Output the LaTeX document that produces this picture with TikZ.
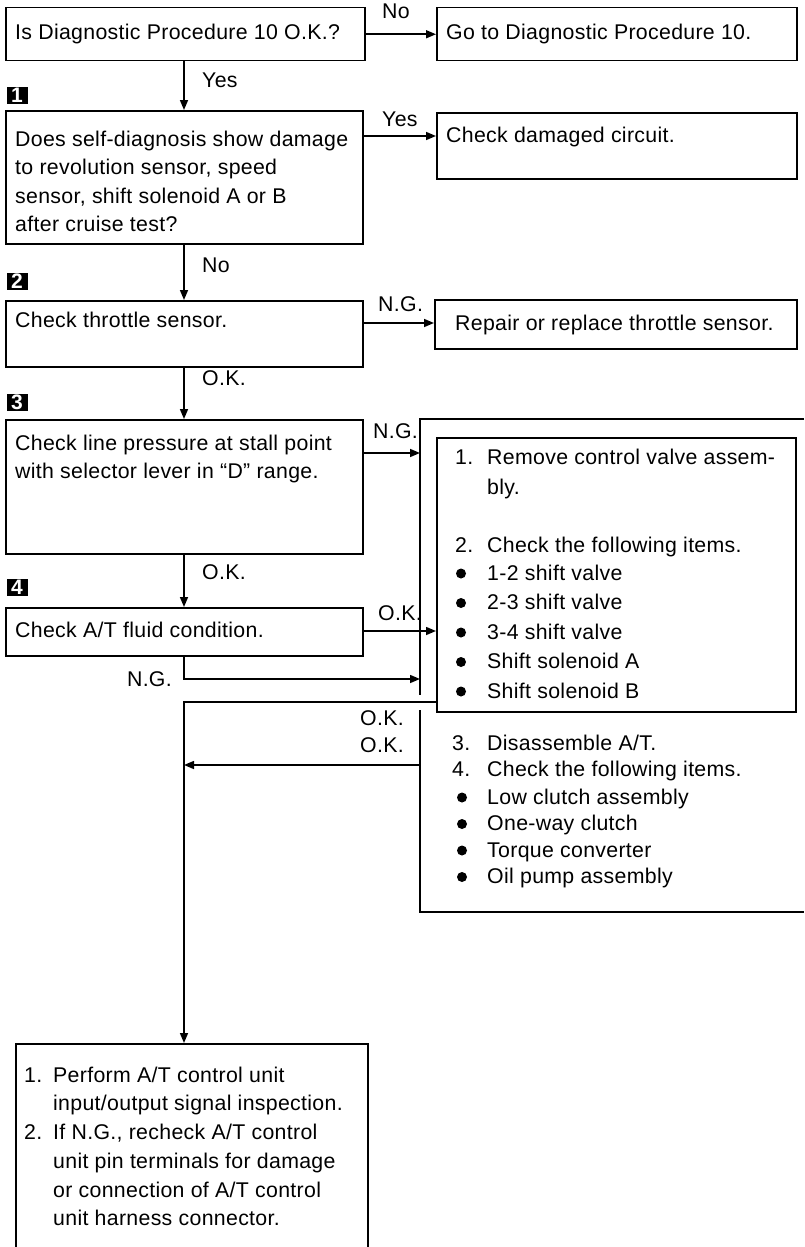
\documentclass[tikz,border=0pt]{standalone}
\usepackage{fontspec}
\setmainfont{Liberation Sans}[LetterSpace=1.5]
\newfontfamily\markfont{Liberation Sans}
\usetikzlibrary{arrows.meta,calc}
\newcommand\myfs{\fontsize{21.3}{28}\selectfont}
\tikzset{
  box/.style={draw, line width=1.5pt, inner sep=0pt, anchor=north west},
  txt/.style={anchor=base west, inner sep=0pt, font=\myfs},
  txte/.style={anchor=base east, inner sep=0pt, font=\myfs},
  arr/.style={line width=1.5pt, -{Triangle[length=10pt,width=8pt]}},
  ln/.style={line width=1.5pt},
  marker/.style={fill=black, text=white, font=\fontsize{21}{21}\selectfont\markfont\bfseries, minimum width=21pt, minimum height=17pt, inner sep=0pt},
  bul/.style={circle, fill=black, inner sep=0pt, minimum size=10pt}
}
\begin{document}
\begin{tikzpicture}[x=1pt,y=-1pt]
\useasboundingbox (0,0) rectangle (804,1247);
% boxes
\node[box, minimum width=359pt, minimum height=53pt] (A) at (5,7) {};
\node[box, minimum width=360pt, minimum height=53pt] (B) at (436,7) {};
\node[box, minimum width=357pt, minimum height=133pt] (C) at (5,110) {};
\node[box, minimum width=360pt, minimum height=66pt] (D) at (436,112) {};
\node[box, minimum width=357pt, minimum height=66pt] (E) at (5,300) {};
\node[box, minimum width=362pt, minimum height=49pt] (F) at (434,299) {};
\node[box, minimum width=357pt, minimum height=134pt] (G) at (5,419) {};
\node[box, minimum width=357pt, minimum height=48pt] (K) at (5,607) {};
\node[box, minimum width=359pt, minimum height=274pt] (H) at (436,437) {};
\node[box, minimum width=352pt, minimum height=240pt] (Z) at (15,1043) {};
% outer frame
\coordinate (fr) at (420,419);
\coordinate (frb) at (420,912);
\coordinate (frgapa) at (420,695);
\coordinate (frgapb) at (420,710);
\draw[ln] (804,419) -- (fr) -- (frgapa);
\draw[ln] (frgapb) -- (frb) -- (804,912);
% markers
\node[marker] (m1) at (17,95) {1};
\node[marker] (m2) at (17,281) {2};
\node[marker] (m3) at (17,402) {3};
\node[marker] (m4) at (17,587) {4};
% texts
\node[txt] (tA) at (15,40) {Is Diagnostic Procedure 10 O.K.?};
\node[txt] (tB) at (446,40) {Go to Diagnostic Procedure 10.};
\foreach \t [count=\i] in {Does self-diagnosis show damage, {to revolution sensor, speed}, {sensor, shift solenoid A or B}, after cruise test?}
  \node[txt] (tC\i) at (15,{146+28.5*(\i-1)}) {\t};
\node[txt] (tD) at (446,142) {Check damaged circuit.};
\node[txt] (tE) at (15,327) {Check throttle sensor.};
\node[txt] (tF) at (455,330) {Repair or replace throttle sensor.};
\node[txt] (tG1) at (15,450) {Check line pressure at stall point};
\node[txt] (tG2) at (15,478.5) {with selector lever in ``D'' range.};
\node[txt] (tK) at (15,637) {Check A/T fluid condition.};
% box H
\node[txt] (h1n) at (455,464) {1.};
\node[txt] (h1) at (487,464) {Remove control valve assem-};
\node[txt] (h1b) at (487,494) {bly.};
\node[txt] (h2n) at (455,552) {2.};
\node[txt] (h2) at (487,552) {Check the following items.};
\foreach \t [count=\i] in {1-2 shift valve, 2-3 shift valve, 3-4 shift valve, Shift solenoid A, Shift solenoid B}{
  \node[txt] (hb\i) at (487,{580+29.5*(\i-1)}) {\t};
  \node[bul] (hd\i) at (461,{573.5+29.5*(\i-1)}) {};
}
% lower list
\node[txt] (l3n) at (452,750) {3.};
\node[txt] (l3) at (487,750) {Disassemble A/T.};
\node[txt] (l4n) at (452,776) {4.};
\node[txt] (l4) at (487,776) {Check the following items.};
\foreach \t [count=\i] in {Low clutch assembly, One-way clutch, Torque converter, Oil pump assembly}{
  \node[txt] (lb\i) at (487,{804+26.5*(\i-1)}) {\t};
  \node[bul] (ld\i) at (462,{797.5+26.5*(\i-1)}) {};
}
% final box
\node[txt] (z1n) at (24,1082) {1.};
\node[txt] (z1) at (53,1082) {Perform A/T control unit};
\node[txt] (z1b) at (53,1110) {input/output signal inspection.};
\node[txt] (z2n) at (24,1139) {2.};
\node[txt] (z2) at (53,1139) {If N.G., recheck A/T control};
\node[txt] (z2b) at (53,1168) {unit pin terminals for damage};
\node[txt] (z2c) at (53,1197) {or connection of A/T control};
\node[txt] (z2d) at (53,1225) {unit harness connector.};
% connectors
\coordinate (vx) at (184,0);
\coordinate (y1) at (0,136);
\coordinate (y2) at (0,323);
\coordinate (y3) at (0,453);
\coordinate (y4) at (0,631);
\coordinate (y5) at (0,679);
\coordinate (y6) at (0,702);
\coordinate (y7) at (0,765);
\draw[arr] (A.east) -- (B.west);
\draw[arr] (A.south -| vx) -- (C.north -| vx);
\draw[arr] (C.east |- y1) -- (D.west |- y1);
\draw[arr] (C.south -| vx) -- (E.north -| vx);
\draw[arr] (E.east |- y2) -- (F.west |- y2);
\draw[arr] (E.south -| vx) -- (G.north -| vx);
\draw[arr] (G.east |- y3) -- (fr |- y3);
\draw[arr] (G.south -| vx) -- (K.north -| vx);
\draw[arr] (K.east |- y4) -- (H.west |- y4);
\draw[arr] (K.south -| vx) |- (fr |- y5);
\draw[arr] (H.west |- y6) -| (Z.north -| vx);
\draw[arr] (frb |- y7) -- (vx |- y7);
% labels
\node[txt] (lNo) at (382,19) {No};
\node[txt] (lYes1) at (202,88) {Yes};
\node[txt] (lYes2) at (382,126) {Yes};
\node[txt] (lNo2) at (202,272) {No};
\node[txt] (lNG1) at (378,311) {N.G.};
\node[txt] (lOK1) at (202,385) {O.K.};
\node[txte] (lNG2) at (418,438) {N.G.};
\node[txt] (lOK2) at (202,579) {O.K.};
\node[txt] (lOK3) at (378,620) {O.K.};
\node[txte] (lNG3) at (172,686) {N.G.};
\node[txte] (lOK4) at (404,725) {O.K.};
\node[txte] (lOK5) at (404,752) {O.K.};
\end{tikzpicture}
\end{document}
